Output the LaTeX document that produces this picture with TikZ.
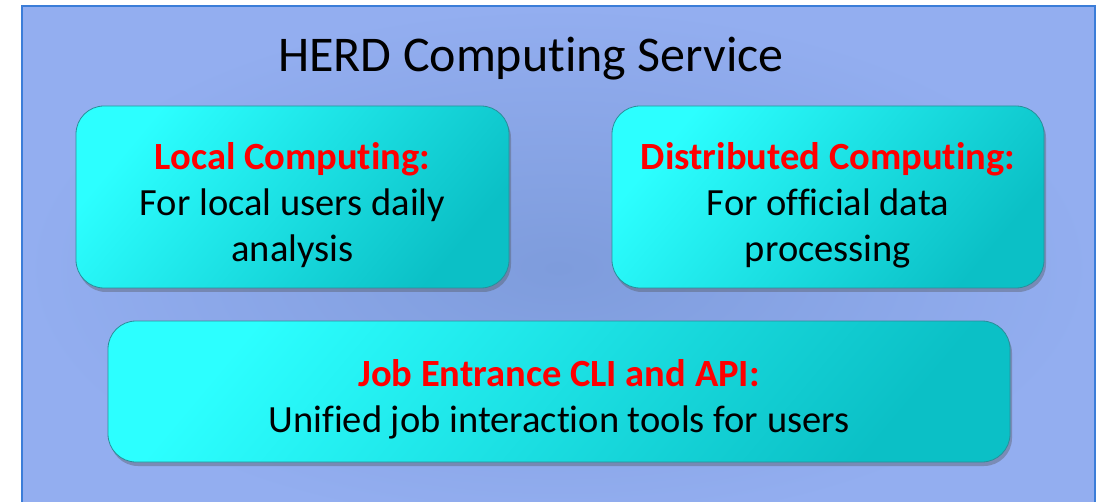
\documentclass[tikz,border=0pt]{standalone}
\usepackage{fontspec}
\setmainfont{Carlito}[Ligatures=CommonOff]
\usetikzlibrary{shadows}
\definecolor{bgedge}{HTML}{93AEF0}
\definecolor{bgmid}{HTML}{7E9CDC}
\definecolor{frameblue}{HTML}{3B7DD8}
\definecolor{boxlight}{HTML}{2CFFFF}
\definecolor{boxdark}{HTML}{0BC0C6}
\definecolor{boxline}{HTML}{2A8E9A}
\newcommand{\headline}[1]{\rule{0pt}{43pt}\textcolor{red}{\bfseries #1}}
\begin{document}
\begin{tikzpicture}[x=1pt, y=-1pt,
box/.style={rectangle, rounded corners=28pt, draw=boxline, line width=0.8pt,
  top color=boxlight, bottom color=boxdark, shading angle=50,
  drop shadow={shadow xshift=2pt, shadow yshift=-4pt, opacity=0.35, fill=black!70},
  align=center, inner sep=0pt, font=\fontsize{38.5}{46}\selectfont}
]
\useasboundingbox (0,0) rectangle (1099,502);
%Frame
\begin{scope}
\clip (0,0) rectangle (1099,502);
\path[shading=radial, inner color=bgmid, outer color=bgedge] (22,6) rectangle (1095,530);
\draw[frameblue, line width=1.5pt] (22,6) rectangle (1095,530);
\end{scope}
%Title
\node[anchor=base, font=\fontsize{50}{58}\selectfont] (title) at (531,72) {HERD Computing Service};
%Boxes
\node[box, minimum width=433pt, minimum height=182pt] (local) at (292.5,197)
  {\headline{Local Computing:}\\ For local users daily\\ analysis};
\node[box, minimum width=432pt, minimum height=182pt] (dist) at (828,197)
  {\headline{Distributed Computing:}\\ For official data\\ processing};
\node[box, minimum width=902pt, minimum height=141pt] (job) at (559,391.5)
  {\headline{Job Entrance CLI and API:}\\ Unified job interaction tools for users};
\end{tikzpicture}
\end{document}
